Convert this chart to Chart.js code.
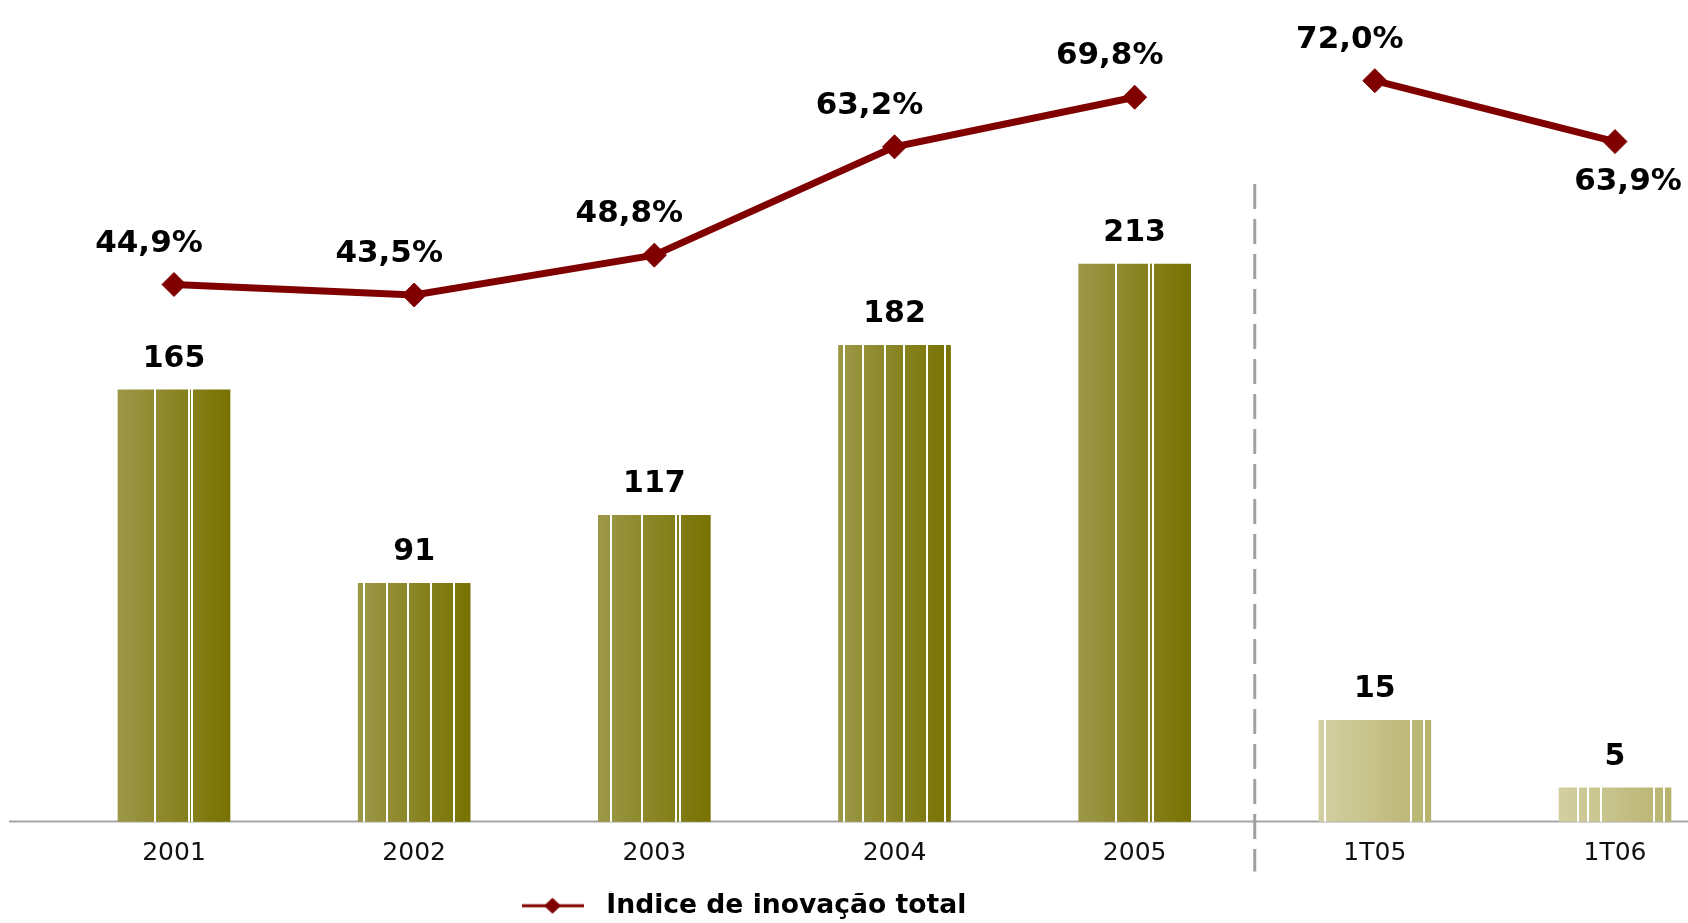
<!DOCTYPE html>
<html>
<head>
<meta charset="utf-8">
<script src="https://cdn.jsdelivr.net/npm/chart.js@4.4.0/dist/chart.umd.min.js"></script>
<style>
    html, body { margin: 0; padding: 0; background: #fff; }
    #wrap { width: 1688px; height: 923px; }
</style>
</head>
<body>
<div id="wrap"><canvas id="innovationChart"></canvas></div>
<script>
// Dados
const categories = ['2001', '2002', '2003', '2004', '2005', '1T05', '1T06'];
const annualLaunches = [165, 91, 117, 182, 213, null, null];
const quarterLaunches = [null, null, null, null, null, 15, 5];
const innovationIndex = [44.9, 43.5, 48.8, 63.2, 69.8, 72.0, 63.9];
const lastAnnualIndex = 4;

// Estilo
const FONT = '"DejaVu Sans", Verdana, sans-serif';
const MAROON = '#800000';
const BAR_W = 112;
// listras brancas dentro de cada barra (fração da largura)
const barStripes = [
    [0.33, 0.63, 0.66],
    [0.05, 0.255, 0.442, 0.647, 0.852],
    [0.116, 0.394, 0.693, 0.725],
    [0.048, 0.217, 0.414, 0.586, 0.789, 0.95],
    [0.333, 0.629, 0.664],
    [0.053, 0.826, 0.938],
    [0.17, 0.263, 0.375, 0.851, 0.938]
];

function mix(a, b, t) {
    return 'rgb(' + a.map((v, k) => Math.round(v + (b[k] - v) * t)).join(',') + ')';
}

function barFill(context, light, dark) {
    const chart = context.chart;
    const xs = chart.scales.x;
    if (!xs || !chart.chartArea || context.dataIndex === undefined) return mix(light, dark, 0.5);
    const cx = xs.getPixelForValue(context.dataIndex);
    const x0 = cx - BAR_W / 2;
    const g = chart.ctx.createLinearGradient(x0, 0, x0 + BAR_W, 0);
    g.addColorStop(0, mix(light, dark, 0));
    const half = 1 / BAR_W;
    (barStripes[context.dataIndex] || []).forEach(p => {
        const c = mix(light, dark, p);
        g.addColorStop(p - half, c);
        g.addColorStop(p - half, '#ffffff');
        g.addColorStop(p + half, '#ffffff');
        g.addColorStop(p + half, c);
    });
    g.addColorStop(1, mix(light, dark, 1));
    return g;
}

function pct(v) {
    return v.toFixed(1).replace('.', ',') + '%';
}

// ícone da legenda: linha com losango
const legendIcon = document.createElement('canvas');
legendIcon.width = 62;
legendIcon.height = 18;
(function() {
    const c = legendIcon.getContext('2d');
    c.strokeStyle = MAROON;
    c.lineWidth = 3;
    c.beginPath();
    c.moveTo(0, 9);
    c.lineTo(62, 9);
    c.stroke();
    c.fillStyle = MAROON;
    c.beginPath();
    c.moveTo(31 - 8.5, 9);
    c.lineTo(31, 1);
    c.lineTo(31 + 8.5, 9);
    c.lineTo(31, 17);
    c.closePath();
    c.fill();
})();

// linha de base, separador tracejado e ajuste da legenda
const decorations = {
    id: 'decorations',
    afterLayout(chart) {
        const lg = chart.legend;
        if (!lg || !lg.lineWidths) return;
        const pad = lg.options.labels.padding;
        const cur = (lg.left + pad + lg.right - lg.lineWidths[0]) / 2;
        const dx = 512 - cur;
        lg.left += dx;
        lg.right += dx;
        lg.top += 6;
        lg.bottom += 6;
    },
    beforeDatasetsDraw(chart) {
        const c = chart.ctx;
        const area = chart.chartArea;
        const xs = chart.scales.x;
        const base = chart.scales.y.getPixelForValue(0);
        c.save();
        c.strokeStyle = '#a6a6a6';
        c.lineWidth = 2;
        c.beginPath();
        c.moveTo(9, base);
        c.lineTo(chart.width, base);
        c.stroke();

        const sx = (xs.getPixelForValue(lastAnnualIndex) + xs.getPixelForValue(lastAnnualIndex + 1)) / 2;
        c.strokeStyle = '#a0a0a0';
        c.lineWidth = 3;
        c.setLineDash([25, 10]);
        c.beginPath();
        c.moveTo(sx, area.top + 171);
        c.lineTo(sx, area.bottom + 50);
        c.stroke();
        c.restore();
    }
};

const valueLabels = {
    id: 'valueLabels',
    afterDatasetsDraw(chart) {
        const c = chart.ctx;
        c.save();
        c.textAlign = 'center';
        c.textBaseline = 'middle';
        c.fillStyle = '#000';
        chart.data.datasets.forEach((ds, di) => {
            const meta = chart.getDatasetMeta(di);
            meta.data.forEach((el, i) => {
                const v = ds.data[i];
                if (v === null || v === undefined) return;
                if (meta.type === 'line') {
                    c.font = 'bold 31px ' + FONT;
                    if (i === ds.data.length - 1) {
                        c.fillText(pct(v), el.x + 13, el.y + 40);
                    } else {
                        c.fillText(pct(v), el.x - 25, el.y - 41);
                    }
                } else {
                    c.font = 'bold 30px ' + FONT;
                    c.fillText(String(v), el.x, el.y - 31);
                }
            });
        });
        c.restore();
    }
};

const annualLight = [156, 152, 72];
const annualDark = [119, 114, 0];
const quarterLight = [211, 207, 162];
const quarterDark = [183, 179, 110];

new Chart(document.getElementById('innovationChart').getContext('2d'), {
    type: 'bar',
    data: {
        labels: categories,
        datasets: [
            {
                type: 'line',
                label: 'Índice de inovação total',
                data: innovationIndex,
                yAxisID: 'yp',
                borderColor: MAROON,
                borderWidth: 7,
                backgroundColor: MAROON,
                pointStyle: 'rectRot',
                pointRadius: 12,
                pointBackgroundColor: MAROON,
                pointBorderColor: MAROON,
                pointBorderWidth: 1,
                tension: 0,
                clip: false,
                order: 0,
                segment: {
                    borderColor: ctx => ctx.p0DataIndex === lastAnnualIndex ? 'rgba(0,0,0,0)' : MAROON
                }
            },
            {
                label: 'Anual',
                data: annualLaunches,
                yAxisID: 'y',
                backgroundColor: ctx => barFill(ctx, annualLight, annualDark),
                borderWidth: 0,
                barThickness: BAR_W,
                grouped: false,
                clip: false,
                order: 1
            },
            {
                label: 'Trimestral',
                data: quarterLaunches,
                yAxisID: 'yq',
                backgroundColor: ctx => barFill(ctx, quarterLight, quarterDark),
                borderWidth: 0,
                barThickness: BAR_W,
                grouped: false,
                clip: false,
                order: 2
            }
        ]
    },
    options: {
        responsive: true,
        maintainAspectRatio: false,
        animation: false,
        layout: {
            padding: { left: 174, right: 73, top: 10, bottom: 0 }
        },
        scales: {
            x: {
                offset: false,
                grid: { display: false, drawTicks: false },
                border: { display: false },
                ticks: {
                    color: '#111',
                    padding: 17,
                    autoSkip: false,
                    maxRotation: 0,
                    font: { family: FONT, size: 25 }
                }
            },
            y: { display: false, min: 0, max: 309 },
            yq: { display: false, min: 0, max: 120 },
            yp: { display: false, min: -26.5, max: 81 }
        },
        plugins: {
            tooltip: { enabled: false },
            legend: {
                position: 'bottom',
                labels: {
                    usePointStyle: true,
                    pointStyleWidth: 81,
                    padding: 1,
                    color: '#000',
                    font: { family: FONT, size: 26.6, weight: 'bold' },
                    generateLabels: function(chart) {
                        const ds = chart.data.datasets[0];
                        return [{
                            text: ds.label,
                            fillStyle: MAROON,
                            strokeStyle: MAROON,
                            lineWidth: 0,
                            pointStyle: legendIcon,
                            datasetIndex: 0,
                            hidden: false
                        }];
                    }
                }
            }
        }
    },
    plugins: [decorations, valueLabels]
});
</script>
</body>
</html>
